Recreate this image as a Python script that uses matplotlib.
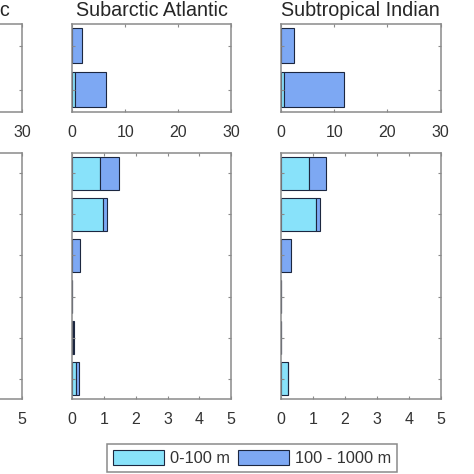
import matplotlib
matplotlib.use("Agg")
import matplotlib.pyplot as plt
import numpy as np
from matplotlib.patches import Patch

plt.rcParams['font.family'] = ['Liberation Sans', 'DejaVu Sans']

# ---- data ----
titles = ["Tropical Pacific", "Subarctic Atlantic", "Subtropical Indian"]
legend_labels = ["0-100 m", "100 - 1000 m"]

top_xticks = [0, 10, 20, 30]
bottom_xticks = [0, 1, 2, 3, 4, 5]

# top row (2 categories), stacked: shallow (0-100 m) + deep (100-1000 m)
top_shallow_pac = []
top_deep_pac = []
top_shallow_atl = [0.0, 0.6]
top_deep_atl = [1.9, 5.7]
top_shallow_ind = [0.0, 0.6]
top_deep_ind = [2.4, 11.2]

# bottom row (6 categories)
bot_shallow_pac = []
bot_deep_pac = []
bot_shallow_atl = [0.88, 0.975, 0.0, 0.0, 0.03, 0.12]
bot_deep_atl = [0.58, 0.105, 0.25, 0.0, 0.02, 0.09]
bot_shallow_ind = [0.89, 1.10, 0.0, 0.0, 0.0, 0.23]
bot_deep_ind = [0.52, 0.11, 0.31, 0.0, 0.01, 0.0]

n_top = 2
n_bot = 6

# ---- style ----
c_light = '#88E2FA'
c_dark = '#7DA8F3'
c_edge = '#1c2740'
c_spine = '#8a8a8a'
c_text = '#333333'

fig = plt.figure(figsize=(4.74, 4.74), dpi=100)

W = 474.0
def rect(x0, x1, y0, y1):
    return [x0 / W, 1 - y1 / W, (x1 - x0) / W, (y1 - y0) / W]

col_x = [(22 - 158.7, 22), (72.3, 231.0), (281.0, 440.7)]
top_y = (24.0, 111.5)
bot_y = (152.7, 399.3)

top_data = [(top_shallow_pac, top_deep_pac), (top_shallow_atl, top_deep_atl), (top_shallow_ind, top_deep_ind)]
bot_data = [(bot_shallow_pac, bot_deep_pac), (bot_shallow_atl, bot_deep_atl), (bot_shallow_ind, bot_deep_ind)]

def style_ax(ax, n, xticks, cropped):
    ax.set_xlim(xticks[0], xticks[-1])
    ax.set_ylim(n + 0.5, 0.5)
    ax.set_xticks(xticks)
    if cropped:
        # only the last label falls inside the visible (cropped) area
        ax.set_xticklabels([''] * (len(xticks) - 1) + [str(xticks[-1])])
    else:
        ax.set_xticklabels([str(t) for t in xticks])
    ax.set_yticks(np.arange(1, n + 1))
    ax.set_yticklabels([])
    ax.tick_params(direction='in', length=2.5, width=0.8, color=c_spine,
                   top=True, right=True, labelsize=11.5, labelcolor=c_text, pad=9.5)
    for s in ax.spines.values():
        s.set_color(c_spine)
        s.set_linewidth(1.1)

def draw(ax, shallow, deep, n):
    if len(shallow) == 0:
        return
    pos = np.arange(1, len(shallow) + 1)
    ax.barh(pos, shallow, height=0.8, color=c_light, edgecolor=c_edge, linewidth=0.8)
    ax.barh(pos, deep, left=shallow, height=0.8, color=c_dark, edgecolor=c_edge, linewidth=0.8)

for i in range(3):
    ax = fig.add_axes(rect(col_x[i][0], col_x[i][1], top_y[0], top_y[1]))
    draw(ax, top_data[i][0], top_data[i][1], n_top)
    style_ax(ax, n_top, top_xticks, i == 0)
    ax.set_title(titles[i], fontsize=14.2, color='#262626', pad=6)

    ax2 = fig.add_axes(rect(col_x[i][0], col_x[i][1], bot_y[0], bot_y[1]))
    draw(ax2, bot_data[i][0], bot_data[i][1], n_bot)
    style_ax(ax2, n_bot, bottom_xticks, i == 0)

handles = [Patch(facecolor=c_light, edgecolor=c_edge, linewidth=0.8),
           Patch(facecolor=c_dark, edgecolor=c_edge, linewidth=0.8)]
leg = fig.legend(handles, legend_labels, loc='center', bbox_to_anchor=(0.5316, 0.034),
                 ncol=2, fontsize=11.8, frameon=True, fancybox=False, framealpha=1,
                 edgecolor=c_spine, handlelength=3.15, handleheight=1.0,
                 handletextpad=0.35, columnspacing=0.45, borderpad=0.35,
                 borderaxespad=0)
for t in leg.get_texts():
    t.set_color(c_text)
leg.get_frame().set_linewidth(1.1)

fig.savefig('out.png', dpi=100)
